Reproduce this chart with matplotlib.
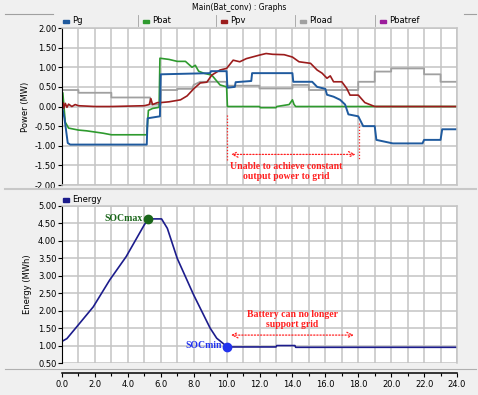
import matplotlib
matplotlib.use("Agg")
import matplotlib.pyplot as plt
from matplotlib.lines import Line2D
from matplotlib.patches import Rectangle
from matplotlib.ticker import MultipleLocator, FormatStrFormatter

plt.rcParams["axes.unicode_minus"] = False

# --- data (time in hours) ---
pg_t = [0, 0.15, 0.35, 0.5, 5.15, 5.2, 5.95, 6.0, 9.0, 9.05, 10.0, 10.05, 10.5, 10.55, 11.5, 11.55,
        14.0, 14.05, 15.2, 15.5, 16.0, 16.1, 16.5, 16.9, 17.2, 17.4, 18.0, 18.3, 19.0, 19.1, 20.1,
        21.9, 22.0, 23.0, 23.1, 24.0]
pg_v = [0, -0.3, -0.93, -0.97, -0.97, -0.3, -0.25, 0.82, 0.85, 0.9, 0.9, 0.48, 0.5, 0.62, 0.65, 0.85,
        0.85, 0.63, 0.63, 0.5, 0.45, 0.3, 0.25, 0.17, 0.05, -0.2, -0.25, -0.5, -0.5, -0.85, -0.94,
        -0.94, -0.85, -0.85, -0.58, -0.58]

pbat_t = [0, 0.05, 0.2, 0.4, 1.0, 1.5, 2.5, 3.0, 5.15, 5.25, 5.5, 5.9, 5.95, 6.5, 7.0, 7.5, 7.9, 8.1,
          8.3, 8.6, 9.1, 9.6, 10.0, 10.05, 12.0, 12.05, 13.0, 13.05, 13.8, 14.0, 14.1, 14.2, 24.0]
pbat_v = [0.0, 0.35, -0.4, -0.55, -0.6, -0.62, -0.68, -0.72, -0.72, -0.1, -0.05, -0.02, 1.23, 1.2,
          1.15, 1.15, 1.0, 1.05, 0.9, 0.85, 0.8, 0.55, 0.5, 0.0, 0.0, -0.03, -0.03, 0.0, 0.05, 0.17,
          0.05, 0.0, 0.0]

ppv_t = [0, 0.05, 0.1, 0.2, 0.3, 0.4, 0.6, 0.8, 1.0, 1.5, 2.0, 3.0, 4.0, 5.0, 5.3, 5.4, 5.5, 5.8,
         6.0, 6.5, 7.2, 7.6, 8.0, 8.4, 8.8, 9.1, 9.6, 10.0, 10.4, 10.8, 11.2, 12.0, 12.4, 12.8, 13.5,
         14.0, 14.4, 15.1, 15.5, 15.8, 16.1, 16.3, 16.5, 17.0, 17.3, 17.5, 18.0, 18.4, 19.0, 24.0]
ppv_v = [0, 0.1, -0.05, 0.08, -0.02, 0.06, 0.0, 0.05, 0.02, 0.01, 0.0, 0.0, 0.01, 0.02, 0.05, 0.2,
         0.05, 0.1, 0.1, 0.12, 0.17, 0.27, 0.45, 0.6, 0.62, 0.8, 0.93, 0.97, 1.18, 1.14, 1.22, 1.31,
         1.35, 1.33, 1.32, 1.26, 1.14, 1.1, 0.93, 0.85, 0.72, 0.78, 0.63, 0.63, 0.46, 0.29, 0.29,
         0.1, 0.0, 0.0]

pload_t = [0, 1.0, 1.0, 3.0, 3.0, 5.35, 5.4, 6.0, 6.0, 7.0, 7.0, 7.9, 8.0, 8.4, 10.0, 10.0, 12.0,
           12.0, 14.0, 14.0, 15.0, 15.0, 18.0, 18.0, 19.0, 19.0, 20.0, 20.0, 22.0, 22.0, 23.0, 23.0, 24.0]
pload_v = [0.42, 0.42, 0.35, 0.35, 0.23, 0.23, 0.05, 0.05, 0.42, 0.42, 0.45, 0.45, 0.55, 0.63, 0.63,
           0.53, 0.53, 0.46, 0.46, 0.55, 0.55, 0.42, 0.42, 0.63, 0.63, 0.89, 0.89, 0.97, 0.97, 0.82,
           0.82, 0.63, 0.63]

energy_t = [0, 0.3, 0.9, 1.9, 2.9, 3.9, 5.0, 5.25, 6.05, 6.4, 7.0, 8.0, 9.0, 9.4, 10.05, 13.0, 13.05,
            14.15, 14.2, 24.0]
energy_v = [1.12, 1.2, 1.54, 2.11, 2.88, 3.55, 4.46, 4.63, 4.63, 4.36, 3.5, 2.45, 1.5, 1.21, 0.96,
            0.96, 1.0, 1.0, 0.95, 0.95]

soc_max = (5.25, 4.63)
soc_min = (10.05, 0.96)

power_series = [("Pg", "#1f5a9e"), ("Pbat", "#2e9a2e"), ("Ppv", "#9b1c1c"),
                ("Pload", "#a0a0a0"), ("Pbatref", "#9b1c9b")]

BG = "#f0f0f0"
GRID = "#c4c4c4"

fig = plt.figure(figsize=(4.78, 3.95), dpi=100, facecolor=BG)
ax1 = fig.add_axes([0.1297, 0.5316, 0.8264, 0.3975])
ax2 = fig.add_axes([0.1297, 0.0810, 0.8264, 0.3975])


def style_axes(ax):
    ax.set_facecolor("white")
    ax.set_xlim(0, 24)
    ax.xaxis.set_major_locator(MultipleLocator(2))
    ax.xaxis.set_minor_locator(MultipleLocator(1))
    ax.yaxis.set_major_locator(MultipleLocator(0.5))
    ax.yaxis.set_major_formatter(FormatStrFormatter("%.2f"))
    ax.grid(True, which="both", color=GRID, lw=1.1)
    ax.set_axisbelow(True)
    for s in ["top", "right", "bottom"]:
        ax.spines[s].set_color(GRID)
        ax.spines[s].set_linewidth(1.1)
    ax.spines["left"].set_color("black")
    ax.tick_params(axis="y", labelsize=6, length=3, width=0.8, pad=1)
    ax.tick_params(axis="x", which="both", length=0)
    ax.set_xticklabels([])


style_axes(ax1)
ax1.set_ylim(-2, 2)
ax1.plot(pload_t, pload_v, color="#a0a0a0", lw=1.3)
ax1.plot(pbat_t, pbat_v, color="#2e9a2e", lw=1.2)
ax1.plot(ppv_t, ppv_v, color="#9b1c1c", lw=1.2)
ax1.plot(pg_t, pg_v, color="#1f5a9e", lw=1.4)
ax1.set_ylabel("Power (MW)", fontsize=6, labelpad=4)

# red annotation, top panel
red = "#ff2020"
ax1.plot([10, 10], [-0.22, -1.4], color=red, lw=0.9, ls=(0, (1, 1.5)))
ax1.plot([18.05, 18.05], [-0.43, -1.37], color=red, lw=0.9, ls=(0, (1, 1.5)))
ax1.annotate("", xy=(10.1, -1.22), xytext=(18.0, -1.22),
             arrowprops=dict(arrowstyle="<->", color=red, lw=0.9, ls=(0, (1, 1.5))))
ax1.text(13.6, -1.65, "Unable to achieve constant\noutput power to grid", color=red,
         fontsize=7, fontweight="bold", family="Liberation Serif", ha="center", va="center",
         linespacing=1.15)

style_axes(ax2)
ax2.set_ylim(0.5, 5.0)
ax2.plot(energy_t, energy_v, color="#1c1c8c", lw=1.2)
ax2.plot(*soc_max, "o", color="#1a661a", ms=6)
ax2.plot(*soc_min, "o", color="#2233ee", ms=6)
ax2.text(soc_max[0] - 0.35, soc_max[1], "SOCmax", color="#1a661a", fontsize=7, fontweight="bold",
         family="Liberation Serif", ha="right", va="center")
ax2.text(soc_min[0] - 0.35, soc_min[1] + 0.05, "SOCmin", color="#2233ee", fontsize=7,
         fontweight="bold", family="Liberation Serif", ha="right", va="center")
ax2.annotate("", xy=(10.1, 1.3), xytext=(17.9, 1.3),
             arrowprops=dict(arrowstyle="<->", color=red, lw=0.9, ls=(0, (1, 1.5))))
ax2.text(14.0, 1.74, "Battery can no longer\nsupport grid", color=red, fontsize=7,
         fontweight="bold", family="Liberation Serif", ha="center", va="center", linespacing=1.15)
ax2.set_ylabel("Energy (MWh)", fontsize=6, labelpad=4)

# detached x axis under the lower panel
ax2.spines["bottom"].set_position(("outward", 7))
ax2.spines["bottom"].set_color("black")
ax2.tick_params(axis="x", which="major", length=3, width=0.8, labelsize=6, pad=2)
ax2.tick_params(axis="x", which="minor", length=2, width=0.8)
ax2.set_xticks(range(0, 25, 2))
ax2.set_xticklabels([f"{v:.1f}" for v in range(0, 25, 2)])

# window chrome: title bar and legend headers
fig.text(0.5, 0.982, "Main(Bat_conv) : Graphs", fontsize=5.5, ha="center", va="center")
fig.add_artist(Line2D([0.01, 0.11], [0.965, 0.965], color="#a0a0a0", lw=0.8))
fig.add_artist(Line2D([0.97, 0.995], [0.965, 0.965], color="#a0a0a0", lw=0.8))
fig.add_artist(Line2D([0.01, 0.995], [0.521, 0.521], color="#c8c8c8", lw=1.5))
fig.add_artist(Line2D([0.01, 0.995], [0.066, 0.066], color="#b0b0b0", lw=0.8))

header_x = [63, 143, 221, 300, 380]
for (name, col), px in zip(power_series, header_x):
    x0 = px / 478
    fig.add_artist(Rectangle((x0, 0.941), 6 / 478, 3.5 / 395, color=col, transform=fig.transFigure))
    fig.text(x0 + 9 / 478, 0.948, name, fontsize=6, ha="left", va="center")
    if px > 63:
        fig.add_artist(Line2D([x0 - 5 / 478] * 2, [0.935, 0.962], color="#a0a0a0", lw=0.6))
fig.add_artist(Rectangle((63 / 478, 0.489), 6 / 478, 3.5 / 395, color="#1c1c8c",
                         transform=fig.transFigure))
fig.text(72 / 478, 0.496, "Energy", fontsize=6, ha="left", va="center")

fig.savefig("out.png", dpi=100, facecolor=BG)
